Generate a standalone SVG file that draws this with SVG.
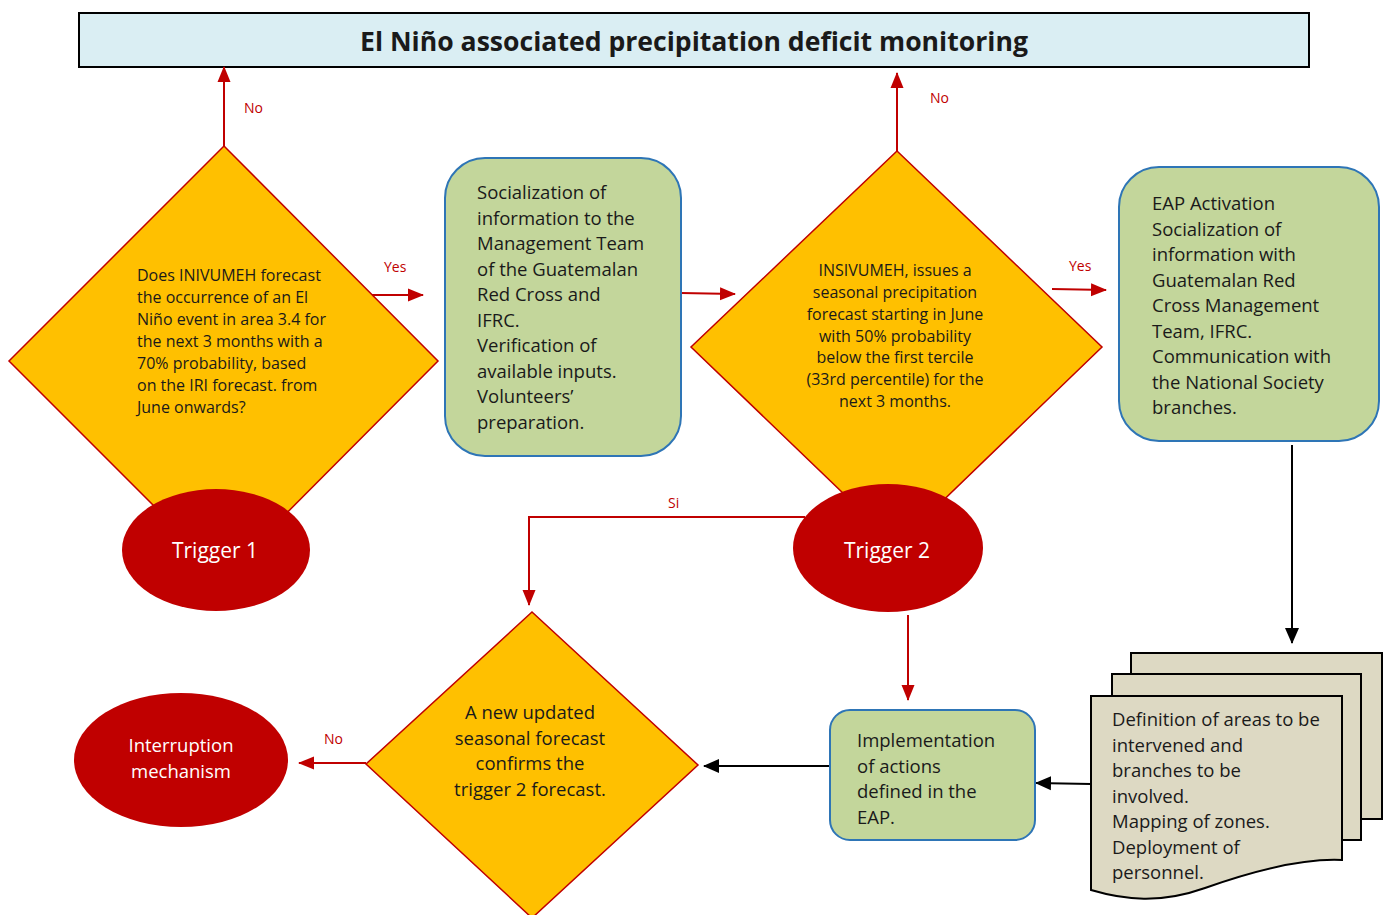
<svg xmlns="http://www.w3.org/2000/svg" width="1386" height="915" viewBox="0 0 1386 915">
<defs>
<marker id="ar" markerUnits="userSpaceOnUse" markerWidth="16" markerHeight="16" viewBox="0 0 16 16" refX="15" refY="8" orient="auto"><path d="M0,1.5 L16,8 L0,14.5 Z" fill="#C00000"/></marker>
<marker id="ab" markerUnits="userSpaceOnUse" markerWidth="16" markerHeight="16" viewBox="0 0 16 16" refX="15" refY="8" orient="auto"><path d="M0,1 L16,8 L0,15 Z" fill="#000"/></marker>
<style>
.t{font-family:"Open Sans","Noto Sans","Liberation Sans",sans-serif;fill:#1a1a1a}
.dia{fill:#FFC000;stroke:#C00000;stroke-width:1.5}
.box{fill:#C3D69B;stroke:#2E75B6;stroke-width:2}
.ell{fill:#C00000}
.w{fill:#fff}
.doc{fill:#DDD9C3;stroke:#000;stroke-width:2}
.rl{stroke:#C00000;stroke-width:2;fill:none}
.bl{stroke:#000;stroke-width:2;fill:none}
.lab{font-family:"Open Sans","Noto Sans","Liberation Sans",sans-serif;fill:#C00000;font-size:14px}
</style>
</defs>
<rect width="1386" height="915" fill="#fff"/>

<g id="title">
<rect x="79" y="13" width="1230" height="54" fill="#DAEEF3" stroke="#000" stroke-width="2"/>
<text class="t" x="694" y="51" font-size="26.6" font-weight="bold" text-anchor="middle">El Niño associated precipitation deficit monitoring</text>
</g>

<g id="connectors">
<line class="rl" x1="224" y1="146" x2="224" y2="67" marker-end="url(#ar)"/>
<text class="lab" x="244" y="113">No</text>
<line class="rl" x1="370" y1="295" x2="423" y2="295" marker-end="url(#ar)"/>
<text class="lab" x="384" y="272">Yes</text>
<line class="rl" x1="681" y1="293" x2="735" y2="294" marker-end="url(#ar)"/>
<line class="rl" x1="897" y1="151" x2="897" y2="73" marker-end="url(#ar)"/>
<text class="lab" x="930" y="103">No</text>
<line class="rl" x1="1052" y1="289" x2="1106" y2="290" marker-end="url(#ar)"/>
<text class="lab" x="1069" y="271">Yes</text>
<polyline class="rl" points="805,517 529,517 529,605" marker-end="url(#ar)"/>
<text class="lab" x="668" y="508">Si</text>
<line class="rl" x1="908" y1="615" x2="908" y2="700" marker-end="url(#ar)"/>
<line class="bl" x1="1292" y1="445" x2="1292" y2="643" marker-end="url(#ab)"/>
<line class="bl" x1="1091" y1="784" x2="1036" y2="783" marker-end="url(#ab)"/>
<line class="bl" x1="830" y1="766" x2="704" y2="766" marker-end="url(#ab)"/>
<line class="rl" x1="366" y1="763" x2="299" y2="763" marker-end="url(#ar)"/>
<text class="lab" x="324" y="744">No</text>
</g>

<g id="decision1">
<polygon class="dia" points="224,146 438,361 224,576 9,361"/>
<text class="t" font-size="16"><tspan x="137" y="281">Does INIVUMEH forecast</tspan><tspan x="137" y="303">the occurrence of an El</tspan><tspan x="137" y="325">Niño event in area 3.4 for</tspan><tspan x="137" y="347">the next 3 months with a</tspan><tspan x="137" y="369">70% probability, based</tspan><tspan x="137" y="391">on the IRI forecast. from</tspan><tspan x="137" y="413">June onwards?</tspan></text>
</g>

<g id="trigger1">
<ellipse class="ell" cx="216" cy="550" rx="94" ry="61"/>
<text class="t w" x="215" y="558" font-size="21" text-anchor="middle">Trigger 1</text>
</g>

<g id="socialization">
<rect class="box" x="445" y="158" width="236" height="298" rx="40"/>
<text class="t" font-size="18.5"><tspan x="477" y="199">Socialization of</tspan><tspan x="477" y="224.5">information to the</tspan><tspan x="477" y="250">Management Team</tspan><tspan x="477" y="275.5">of the Guatemalan</tspan><tspan x="477" y="301">Red Cross and</tspan><tspan x="477" y="326.5">IFRC.</tspan><tspan x="477" y="352">Verification of</tspan><tspan x="477" y="377.5">available inputs.</tspan><tspan x="477" y="403">Volunteers’</tspan><tspan x="477" y="428.5">preparation.</tspan></text>
</g>

<g id="decision2">
<polygon class="dia" points="897,151 1102,347 897,545 691,347"/>
<text class="t" font-size="16" text-anchor="middle"><tspan x="895" y="276">INSIVUMEH, issues a</tspan><tspan x="895" y="298">seasonal precipitation</tspan><tspan x="895" y="320">forecast starting in June</tspan><tspan x="895" y="342">with 50% probability</tspan><tspan x="895" y="363">below the first tercile</tspan><tspan x="895" y="385">(33rd percentile) for the</tspan><tspan x="895" y="407">next 3 months.</tspan></text>
</g>

<g id="trigger2">
<ellipse class="ell" cx="888" cy="548" rx="95" ry="64"/>
<text class="t w" x="887" y="558" font-size="21" text-anchor="middle">Trigger 2</text>
</g>

<g id="eap">
<rect class="box" x="1119" y="167" width="260" height="274" rx="40"/>
<text class="t" font-size="18.5"><tspan x="1152" y="210">EAP Activation</tspan><tspan x="1152" y="235.5">Socialization of</tspan><tspan x="1152" y="261">information with</tspan><tspan x="1152" y="286.5">Guatemalan Red</tspan><tspan x="1152" y="312">Cross Management</tspan><tspan x="1152" y="337.5">Team, IFRC.</tspan><tspan x="1152" y="363">Communication with</tspan><tspan x="1152" y="388.5">the National Society</tspan><tspan x="1152" y="414">branches.</tspan></text>
</g>

<g id="documents">
<rect class="doc" x="1131" y="653" width="251" height="166"/>
<rect class="doc" x="1112" y="674" width="249" height="166"/>
<path class="doc" d="M1091,696 H1342 V860 C1300,858 1250,872 1205,888 C1160,904 1125,900 1091,890 Z"/>
<text class="t" font-size="18.5"><tspan x="1112" y="726">Definition of areas to be</tspan><tspan x="1112" y="751.5">intervened and</tspan><tspan x="1112" y="777">branches to be</tspan><tspan x="1112" y="802.5">involved.</tspan><tspan x="1112" y="828">Mapping of zones.</tspan><tspan x="1112" y="853.5">Deployment of</tspan><tspan x="1112" y="879">personnel.</tspan></text>
</g>

<g id="implementation">
<rect class="box" x="830" y="710" width="205" height="130" rx="20"/>
<text class="t" font-size="18.5"><tspan x="857" y="747">Implementation</tspan><tspan x="857" y="772.5">of actions</tspan><tspan x="857" y="798">defined in the</tspan><tspan x="857" y="823.5">EAP.</tspan></text>
</g>

<g id="decision3">
<polygon class="dia" points="532,612 698,765 532,918 366,764"/>
<text class="t" font-size="18.5" text-anchor="middle"><tspan x="530" y="719">A new updated</tspan><tspan x="530" y="744.5">seasonal forecast</tspan><tspan x="530" y="770">confirms the</tspan><tspan x="530" y="795.5">trigger 2 forecast.</tspan></text>
</g>

<g id="interruption">
<ellipse class="ell" cx="181" cy="760" rx="107" ry="67"/>
<text class="t w" font-size="18.5" text-anchor="middle"><tspan x="181" y="752">Interruption</tspan><tspan x="181" y="778">mechanism</tspan></text>
</g>
</svg>
